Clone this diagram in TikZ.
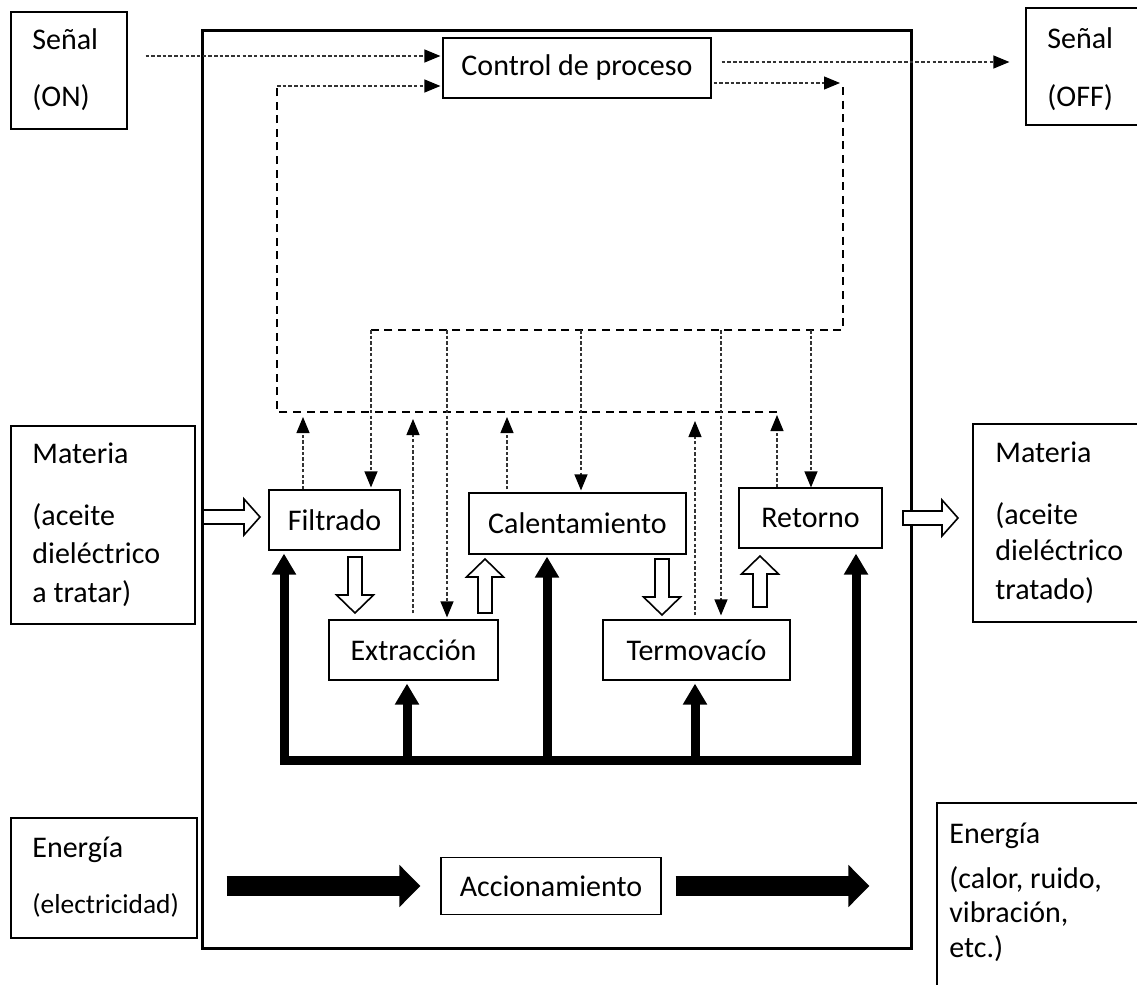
\documentclass[tikz,border=0pt]{standalone}
\usepackage{fontspec}
\setmainfont{Carlito}
\usetikzlibrary{arrows.meta,calc}
\newcommand\hollowV[3]{%
  \pgfmathsetmacro\hdir{#3>#2 ? 18 : -18}%
  \draw[hol] ({#1-7},#2) -- ({#1-7},{#3-(\hdir)}) -- ({#1-18.5},{#3-(\hdir)}) -- (#1,#3)
    -- ({#1+18.5},{#3-(\hdir)}) -- ({#1+7},{#3-(\hdir)}) -- ({#1+7},#2) -- cycle;}
\newcommand\hollowH[3]{%
  \pgfmathsetmacro\hdir{#2>#1 ? 16 : -16}%
  \draw[hol] (#1,{#3-7}) -- ({#2-(\hdir)},{#3-7}) -- ({#2-(\hdir)},{#3-18}) -- (#2,#3)
    -- ({#2-(\hdir)},{#3+18}) -- ({#2-(\hdir)},{#3+7}) -- (#1,{#3+7}) -- cycle;}
\begin{document}
\begin{tikzpicture}[x=0.5pt,y=-0.5pt,
  fnt/.style={font=\fontsize{15pt}{18pt}\selectfont},
  sfnt/.style={font=\fontsize{13.7pt}{16pt}\selectfont},
  box/.style={draw, line width=0.6pt, inner sep=0pt, fnt},
  lbl/.style={anchor=base west, inner sep=0pt, fnt},
  tdash/.style={line width=0.6pt, draw=black!80, dash pattern=on 1.75pt off 1.1pt,
     -{Triangle[length=8pt,width=6.5pt,color=black]}},
  Tdash/.style={line width=1.2pt, dash pattern=on 4pt off 2.8pt},
  bus/.style={line width=4.5pt, line join=miter},
  bigarr/.style={line width=10pt, -{Triangle[length=10.5pt,width=20.5pt]}},
  hol/.style={draw, fill=white, line width=0.8pt, line join=miter},
]
\useasboundingbox (0,0) rectangle (1137,985);
\clip (0,0) rectangle (1137,985);

% frame
\draw[line width=1.5pt] (202,30) rectangle (911,948);

% outer boxes
\node[box, minimum width=58pt, minimum height=58.5pt] (on) at (69,70.5) {};
\node[lbl] (on1) at (32,49) {Señal};
\node[lbl] (on2) at (32,106) {(ON)};
\node[box, minimum width=62pt, minimum height=58.5pt] (off) at (1088,66.5) {};
\node[lbl] (off1) at (1047,48) {Señal};
\node[lbl] (off2) at (1047,106) {(OFF)};
\node[box, minimum width=92pt, minimum height=99pt] (matL) at (103,525) {};
\node[lbl] (matL1) at (32,463) {Materia};
\node[lbl] (matL2) at (32,525) {(aceite};
\node[lbl] (matL3) at (32,563) {dieléctrico};
\node[lbl] (matL4) at (32,602) {a tratar)};
\node[box, minimum width=88.5pt, minimum height=99pt] (matR) at (1061.5,523) {};
\node[lbl] (matR1) at (995,462) {Materia};
\node[lbl] (matR2) at (995,524) {(aceite};
\node[lbl] (matR3) at (995,560) {dieléctrico};
\node[lbl] (matR4) at (995,599) {tratado)};
\node[box, minimum width=93pt, minimum height=60pt] (enL) at (104,878) {};
\node[lbl] (enL1) at (32,857) {Energía};
\node[lbl, sfnt] (enL2) at (32,913) {(electricidad)};
\node[box, minimum width=106.5pt, minimum height=98.5pt] (enR) at (1043.5,901.5) {};
\node[lbl] (enR1) at (949,843) {Energía};
\node[lbl] (enR2) at (949,888) {(calor, ruido,};
\node[lbl] (enR3) at (949,922) {vibración,};
\node[lbl] (enR4) at (949,957) {etc.)};

% inner boxes
\node[box, minimum width=134pt, minimum height=30pt] (ctrl) at (577,68) {Control de proceso};
\node[box, minimum width=65.5pt, minimum height=30pt] (filt) at (334.5,520) {Filtrado};
\node[box, minimum width=108.5pt, minimum height=30.5pt] (cal) at (577.5,523.5) {Calentamiento};
\node[box, minimum width=71.5pt, minimum height=30pt] (ret) at (810.5,518) {Retorno};
\node[box, minimum width=84.5pt, minimum height=30pt] (ext) at (413.5,650) {Extracción};
\node[box, minimum width=93.5pt, minimum height=30pt] (term) at (696.5,650) {Termovacío};
\node[box, minimum width=110pt, minimum height=28.5pt] (acc) at (551,886) {Accionamiento};

% control signals
\coordinate (cR) at (843,83);
\coordinate (ubR) at (843,330);
\coordinate (ubL) at (371,330);
\coordinate (lbR) at (777,412);
\coordinate (lbL) at (277,412);
\coordinate (cL) at (277,86);

\draw[tdash, shorten <=9pt, shorten >=1pt] (on.east |- 0,56) -- (ctrl.west |- 0,56);
\draw[tdash, shorten <=5pt, shorten >=8pt] (ctrl.east |- 0,62) -- (off.west |- 0,62);
\draw[tdash, shorten <=1pt, shorten >=1.5pt] (ctrl.east |- cR) -- (cR);
\draw[Tdash] (843,87) -- (ubR) -- (ubL);
\draw[Tdash] (lbR) -- (lbL) -- (cL);
\draw[tdash, shorten >=1pt] (cL) -- (ctrl.west |- cL);

% down arrows from upper bus
\draw[tdash, shorten >=1pt] (ubL) -- (371,0 |- filt.north);
\draw[tdash, shorten >=1pt] (447,330) -- (447,0 |- ext.north);
\draw[tdash, shorten >=1pt] (581,330) -- (581,0 |- cal.north);
\draw[tdash, shorten >=2pt] (721,330) -- (721,0 |- term.north);
\draw[tdash, shorten >=0pt] (811,330) -- (811,0 |- ret.north);

% up arrows to lower bus
\draw[tdash] (303,0 |- filt.north) -- (303,417);
\draw[tdash, shorten <=3pt] (413,0 |- ext.north) -- (413,419);
\draw[tdash, shorten <=1.5pt] (507,0 |- cal.north) -- (507,417);
\draw[tdash, shorten <=2pt] (695,0 |- term.north) -- (695,421);
\draw[tdash] (777,0 |- ret.north) -- (777,415);

% energy bus
\draw[bus, {Triangle[length=10.5pt,width=11.5pt]}-{Triangle[length=10.5pt,width=11.5pt]},
  shorten <=1.5pt, shorten >=2.5pt]
  (284,0 |- filt.south) -- (284,760) -- (856,760) -- (856,0 |- ret.south);
\draw[bus, -{Triangle[length=10.5pt,width=11.5pt]}, shorten >=1.5pt] (407,760) -- (407,0 |- ext.south);
\draw[bus, -{Triangle[length=10.5pt,width=11.5pt]}, shorten >=1pt] (547,760) -- (547,0 |- cal.south);
\draw[bus, -{Triangle[length=10.5pt,width=11.5pt]}, shorten >=1.5pt] (695,760) -- (695,0 |- term.south);

% energy in / out
\draw[bigarr, shorten <=14.5pt, shorten >=10pt] (enL.east |- acc.center) -- (acc.west);
\draw[bigarr, shorten <=7pt, shorten >=33.5pt] (acc.east) -- (enR.west |- acc.center);

% material flow (hollow arrows)
\hollowH{203}{260}{517}
\hollowH{903}{958}{518}
\hollowV{355}{557}{613}
\hollowV{485}{613}{559}
\hollowV{662}{559}{615}
\hollowV{760}{607}{556}
\end{tikzpicture}
\end{document}
